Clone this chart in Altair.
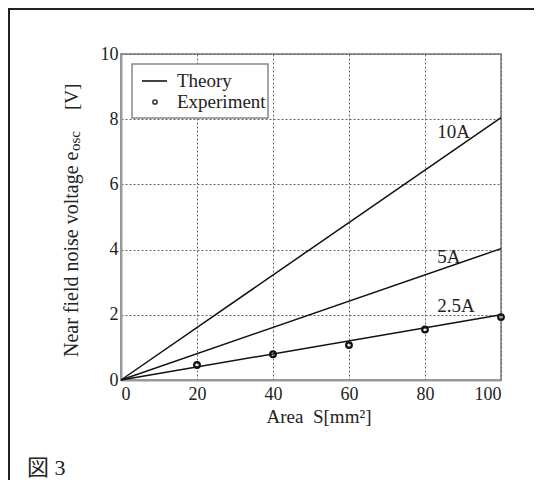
import altair as alt
import pandas as pd

# ---- data ----
currents = ["10A", "5A", "2.5A"]
theory_area = [0, 100]
theory_end_v = [8.05, 4.03, 2.0]          # theory voltage at S = 100 mm^2

exp_area = [20, 40, 60, 80, 100]
exp_volt = [0.46, 0.79, 1.07, 1.55, 1.93]

label_x = [83.2, 83.2, 83.2]
label_y = [7.6, 3.76, 2.26]

x_ticks = [0, 20, 40, 60, 80, 100]
y_ticks = [0, 2, 4, 6, 8, 10]

rows = []
for c, v in zip(currents, theory_end_v):
    rows.append({"current": c, "S": theory_area[0], "V": 0.0})
    rows.append({"current": c, "S": theory_area[1], "V": v})
theory_df = pd.DataFrame(rows)
exp_df = pd.DataFrame({"S": exp_area, "V": exp_volt})
lab_df = pd.DataFrame({"current": currents, "S": label_x, "V": label_y})

SERIF = "Liberation Serif"
X = alt.X("S:Q", scale=alt.Scale(domain=[0, 100], nice=False),
          axis=alt.Axis(values=x_ticks, title=None, labelPadding=5))
Y = alt.Y("V:Q", scale=alt.Scale(domain=[0, 10], nice=False),
          axis=alt.Axis(values=y_ticks, title=None, labelPadding=3))

lines = alt.Chart(theory_df).mark_line(color="#111", strokeWidth=1.5).encode(
    x=X, y=Y, detail="current:N")
points = alt.Chart(exp_df).mark_point(
    shape="circle", filled=False, color="#111", strokeWidth=2.2, size=32, opacity=1
).encode(x="S:Q", y="V:Q")
labels = alt.Chart(lab_df).mark_text(
    align="left", baseline="middle", font=SERIF, fontSize=19, color="#222"
).encode(x="S:Q", y="V:Q", text="current:N")

# ---- decorations (frame, legend, titles, caption) ----
one = pd.DataFrame({"k": [0]})
base = alt.Chart(one)
frame_top = base.mark_rule(color="#222", strokeWidth=2).encode(
    x=alt.value(-113), x2=alt.value(420), y=alt.value(-45))
frame_left = base.mark_rule(color="#222", strokeWidth=2).encode(
    x=alt.value(-112), y=alt.value(-46), y2=alt.value(430))
legend_box = base.mark_rect(fill="white", stroke="#888", strokeWidth=1.5).encode(
    x=alt.value(11), x2=alt.value(147), y=alt.value(10), y2=alt.value(64))
legend_line = base.mark_rule(color="#444", strokeWidth=2).encode(
    x=alt.value(21), x2=alt.value(46), y=alt.value(27))
legend_pt = base.mark_point(shape="circle", filled=False, color="#333",
                            strokeWidth=1.5, size=18, opacity=1).encode(
    x=alt.value(34), y=alt.value(48))
legend_t1 = base.mark_text(align="left", baseline="middle", font=SERIF,
                           fontSize=19, color="#222", text="Theory").encode(
    x=alt.value(56), y=alt.value(27))
legend_t2 = base.mark_text(align="left", baseline="middle", font=SERIF,
                           fontSize=19, color="#222", text="Experiment").encode(
    x=alt.value(56), y=alt.value(48))

ytitle_main = base.mark_text(align="left", baseline="alphabetic", angle=270,
                             font=SERIF, fontSize=20, color="#222",
                             text="Near field noise voltage e").encode(
    x=alt.value(-43), y=alt.value(303))
ytitle_sub = base.mark_text(align="left", baseline="alphabetic", angle=270,
                            font=SERIF, fontSize=15, color="#222",
                            text="osc").encode(
    x=alt.value(-41), y=alt.value(97))
ytitle_unit = base.mark_text(align="left", baseline="alphabetic", angle=270,
                             font=SERIF, fontSize=19, color="#222",
                             text="[V]").encode(
    x=alt.value(-43), y=alt.value(56))
xtitle = base.mark_text(align="center", baseline="alphabetic", font=SERIF,
                        fontSize=19, color="#222",
                        text="Area\u00a0 S[mm\u00b2]").encode(
    x=alt.value(198), y=alt.value(369))
caption = base.mark_text(align="left", baseline="alphabetic",
                         font="Liberation Serif, Noto Sans CJK JP",
                         fontSize=22, color="#222", text="図 3").encode(
    x=alt.value(-94), y=alt.value(421))

chart = alt.layer(
    frame_top, frame_left, lines, points, labels, legend_box, legend_line,
    legend_pt, legend_t1, legend_t2, ytitle_main, ytitle_sub, ytitle_unit,
    xtitle, caption
).properties(
    width=380, height=326,
    autosize=alt.AutoSizeParams(type="none"),
    padding={"left": 113, "top": 46, "right": 33, "bottom": 100},
    background="white",
).configure_view(
    stroke="#999", strokeWidth=2
).configure_axis(
    domainColor="#999", domainWidth=2, ticks=False,
    gridColor="#666", gridDash=[2, 2], gridWidth=1,
    labelFont=SERIF, labelFontSize=18, labelColor="#222",
)

chart.save("out.html", embed_options={"renderer": "svg", "actions": False})
